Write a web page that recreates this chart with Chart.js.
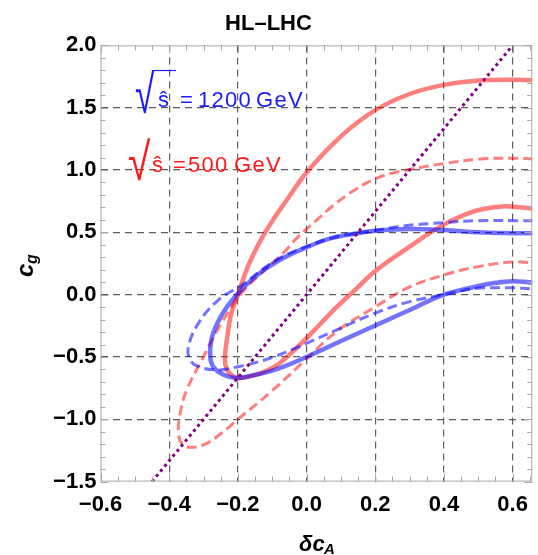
<!DOCTYPE html>
<html>
<head>
<meta charset="utf-8">
<script src="https://cdn.jsdelivr.net/npm/chart.js@4.4.1/dist/chart.umd.min.js"></script>
<style>
  html, body { margin: 0; padding: 0; background: #fff; }
  #wrap { position: relative; width: 538px; height: 555px; }
</style>
</head>
<body>
<div id="wrap"><canvas id="chart"></canvas></div>
<script>
// axis ticks
const xTicks = [-0.6, -0.4, -0.2, 0.0, 0.2, 0.4, 0.6];
const yTicks = [-1.5, -1.0, -0.5, 0.0, 0.5, 1.0, 1.5, 2.0];

// sqrt(s) = 500 GeV, solid contour
const redSolidX = [0.66, 0.6, 0.51, 0.4, 0.3, 0.2, 0.1, 0.0, -0.06, -0.1, -0.135, -0.171, -0.2, -0.219, -0.232, -0.238, -0.232, -0.216, -0.2, -0.17, -0.12, -0.074, 0.003, 0.08, 0.142, 0.2, 0.3, 0.398, 0.485, 0.56, 0.6, 0.66];
const redSolidY = [1.72, 1.725, 1.72, 1.683, 1.61, 1.48, 1.27, 0.98, 0.75, 0.59, 0.43, 0.225, 0.0, -0.15, -0.36, -0.52, -0.6, -0.65, -0.668, -0.66, -0.615, -0.54, -0.34, -0.12, 0.04, 0.19, 0.385, 0.56, 0.666, 0.706, 0.706, 0.69];

// sqrt(s) = 500 GeV, dashed contour
const redDashX = [0.66, 0.6, 0.5, 0.4, 0.3, 0.25, 0.2, 0.14, 0.08, 0.03, -0.03, -0.064, -0.122, -0.19, -0.248, -0.305, -0.349, -0.368, -0.373, -0.362, -0.34, -0.3, -0.248, -0.2, -0.1, 0.0, 0.09, 0.2, 0.3, 0.4, 0.5, 0.6, 0.66];
const redDashY = [1.09, 1.095, 1.087, 1.052, 1.005, 0.975, 0.93, 0.84, 0.72, 0.6, 0.45, 0.345, 0.198, 0.011, -0.23, -0.524, -0.765, -0.952, -1.11, -1.2, -1.225, -1.206, -1.112, -1.0, -0.77, -0.515, -0.29, -0.098, 0.062, 0.158, 0.225, 0.262, 0.255];

// sqrt(s) = 1200 GeV, solid contour
const blueSolidX = [0.66, 0.6, 0.5, 0.4, 0.3, 0.2, 0.15, 0.07, 0.0, -0.07, -0.137, -0.19, -0.238, -0.272, -0.281, -0.272, -0.24, -0.204, -0.16, -0.093, 0.0, 0.1, 0.2, 0.3, 0.4, 0.494, 0.55, 0.6, 0.66];
const blueSolidY = [0.493, 0.493, 0.5, 0.519, 0.527, 0.512, 0.493, 0.452, 0.38, 0.29, 0.172, 0.038, -0.123, -0.31, -0.47, -0.578, -0.644, -0.668, -0.65, -0.604, -0.5, -0.372, -0.248, -0.123, 0.0, 0.065, 0.095, 0.108, 0.097];

// sqrt(s) = 1200 GeV, dashed contour
const blueDashX = [0.66, 0.6, 0.5, 0.4, 0.28, 0.2, 0.15, 0.07, 0.0, -0.07, -0.13, -0.18, -0.257, -0.315, -0.344, -0.339, -0.315, -0.257, -0.2, -0.122, -0.045, 0.0, 0.09, 0.2, 0.3, 0.4, 0.494, 0.55, 0.6, 0.66];
const blueDashY = [0.594, 0.594, 0.594, 0.578, 0.551, 0.515, 0.495, 0.452, 0.385, 0.305, 0.2, 0.091, -0.043, -0.23, -0.417, -0.524, -0.578, -0.604, -0.578, -0.524, -0.444, -0.39, -0.28, -0.148, -0.056, 0.0, 0.051, 0.055, 0.055, 0.045];

// dotted diagonal
const diagX = [-0.45, 0.6];
const diagY = [-1.5, 2.0];

const FONT = '"Liberation Sans", Arial, sans-serif';
Chart.defaults.font.family = FONT;

const toPts = (xs, ys) => xs.map((x, i) => ({ x, y: ys[i] }));
const fmt = v => v.toFixed(1).replace('-', '\u2212');

const RED = 'rgba(255,0,0,0.5)';
const BLUE = 'rgba(0,0,255,0.55)';

// frame with inward minor/major ticks on all four sides
const frameTicks = {
  id: 'frameTicks',
  afterDraw(chart) {
    const { ctx, chartArea: a, scales: { x, y } } = chart;
    ctx.save();
    ctx.strokeStyle = '#a8a8a8';
    ctx.lineWidth = 1;
    ctx.strokeRect(a.left + 0.5, a.top + 0.5, a.right - a.left - 1, a.bottom - a.top - 1);
    ctx.beginPath();
    for (let i = 0; i <= 25; i++) {
      const px = Math.round(x.getPixelForValue(-0.6 + i * 0.05)) + 0.5;
      const len = i % 4 === 0 ? 8 : 5;
      ctx.moveTo(px, a.bottom); ctx.lineTo(px, a.bottom - len);
      ctx.moveTo(px, a.top); ctx.lineTo(px, a.top + len);
    }
    for (let i = 0; i <= 35; i++) {
      const py = Math.round(y.getPixelForValue(-1.5 + i * 0.1)) + 0.5;
      const len = i % 5 === 0 ? 8 : 5;
      ctx.moveTo(a.left, py); ctx.lineTo(a.left + len, py);
      ctx.moveTo(a.right, py); ctx.lineTo(a.right - len, py);
    }
    ctx.stroke();
    ctx.restore();
  }
};

// radical sign stretched to a given box
function drawRoot(ctx, left, top, bottom, width, color) {
  ctx.save();
  ctx.font = '30px ' + FONT;
  const m = ctx.measureText('\u221A');
  const gh = m.actualBoundingBoxAscent + m.actualBoundingBoxDescent;
  const gw = m.actualBoundingBoxLeft + m.actualBoundingBoxRight;
  ctx.translate(left, top);
  ctx.scale(width / gw, (bottom - top) / gh);
  ctx.fillStyle = color;
  ctx.textBaseline = 'alphabetic';
  ctx.fillText('\u221A', m.actualBoundingBoxLeft, m.actualBoundingBoxAscent);
  ctx.restore();
}

const labels = {
  id: 'labels',
  afterDraw(chart) {
    const ctx = chart.ctx;
    ctx.save();
    ctx.textBaseline = 'alphabetic';
    ctx.textAlign = 'left';

    // 1200 GeV
    drawRoot(ctx, 135, 70, 115, 20, '#1a1aff');
    ctx.strokeStyle = '#1a1aff';
    ctx.lineWidth = 1.2;
    ctx.beginPath(); ctx.moveTo(154, 70.5); ctx.lineTo(176, 70.5); ctx.stroke();
    ctx.fillStyle = '#1a1aff';
    ctx.font = '22px ' + FONT;
    ctx.fillText('\u015D', 158, 107);
    ctx.fillText('=', 180, 107);
    ctx.letterSpacing = '1.3px';
    ctx.fillText('1200', 198, 107);
    ctx.fillText('GeV', 256, 107);
    ctx.letterSpacing = '0px';

    // 500 GeV
    drawRoot(ctx, 128, 138, 182, 23, '#ff1a1a');
    ctx.fillStyle = '#ff1a1a';
    ctx.font = '22px ' + FONT;
    ctx.fillText('\u015D', 152, 172);
    ctx.fillText('=', 173, 172);
    ctx.letterSpacing = '1.3px';
    ctx.fillText('500', 188, 172);
    ctx.fillText('GeV', 234, 172);
    ctx.letterSpacing = '0px';

    // axis titles
    ctx.fillStyle = '#000';
    ctx.font = 'italic bold 22px ' + FONT;
    ctx.fillText('\u03B4c', 299, 551);
    ctx.font = 'italic bold 15px ' + FONT;
    ctx.fillText('A', 324, 554);

    ctx.translate(28, 267);
    ctx.rotate(-Math.PI / 2);
    ctx.font = 'italic bold 24px ' + FONT;
    ctx.fillText('c', -10, 5);
    ctx.font = 'italic bold 16px ' + FONT;
    ctx.fillText('g', 3, 9);
    ctx.restore();
  }
};

const edge = (v, ends) => ends.includes(v) ? 'rgba(0,0,0,0)' : '#5e5e5e';

new Chart(document.getElementById('chart'), {
  type: 'scatter',
  data: {
    datasets: [
      { label: 'diag', data: toPts(diagX, diagY), showLine: true, borderColor: '#800080',
        borderWidth: 3, borderDash: [3, 3.5], pointRadius: 0, tension: 0 },
      { label: '1200 solid', data: toPts(blueSolidX, blueSolidY), showLine: true, borderColor: BLUE,
        borderWidth: 4.5, pointRadius: 0, tension: 0.4 },
      { label: '1200 dashed', data: toPts(blueDashX, blueDashY), showLine: true, borderColor: BLUE,
        borderWidth: 3, borderDash: [10, 5], pointRadius: 0, tension: 0.4 },
      { label: '500 solid', data: toPts(redSolidX, redSolidY), showLine: true, borderColor: RED,
        borderWidth: 4.5, pointRadius: 0, tension: 0.4 },
      { label: '500 dashed', data: toPts(redDashX, redDashY), showLine: true, borderColor: RED,
        borderWidth: 3, borderDash: [10, 5], pointRadius: 0, tension: 0.4 }
    ]
  },
  options: {
    responsive: true,
    maintainAspectRatio: false,
    animation: false,
    layout: { padding: { left: 0, right: 1, top: 0, bottom: 0 } },
    plugins: {
      legend: { display: false },
      tooltip: { enabled: false },
      title: {
        display: true,
        text: 'HL\u2013LHC',
        color: '#000',
        font: { size: 22, weight: 'bold' },
        padding: { top: 11, bottom: 8 }
      }
    },
    scales: {
      x: {
        type: 'linear',
        min: -0.6,
        max: 0.657,
        afterBuildTicks: s => { s.ticks = xTicks.map(v => ({ value: v })); },
        afterFit: s => { s.height = 73.4; },
        ticks: { callback: fmt, color: '#000', font: { size: 22, weight: 'bold' }, padding: 10, maxRotation: 0 },
        grid: { color: c => edge(c.tick && c.tick.value, [-0.6]), lineWidth: 1.2, drawTicks: false },
        border: { display: false, dash: [7, 5] }
      },
      y: {
        type: 'linear',
        min: -1.5,
        max: 2.0,
        afterBuildTicks: s => { s.ticks = yTicks.map(v => ({ value: v })); },
        afterFit: s => { s.width = 100.5; },
        ticks: { callback: fmt, color: '#000', font: { size: 22, weight: 'bold' }, padding: 4 },
        grid: { color: c => edge(c.tick && c.tick.value, [-1.5, 2.0]), lineWidth: 1.2, drawTicks: false },
        border: { display: false, dash: [7, 5] }
      }
    }
  },
  plugins: [frameTicks, labels]
});
</script>
</body>
</html>
